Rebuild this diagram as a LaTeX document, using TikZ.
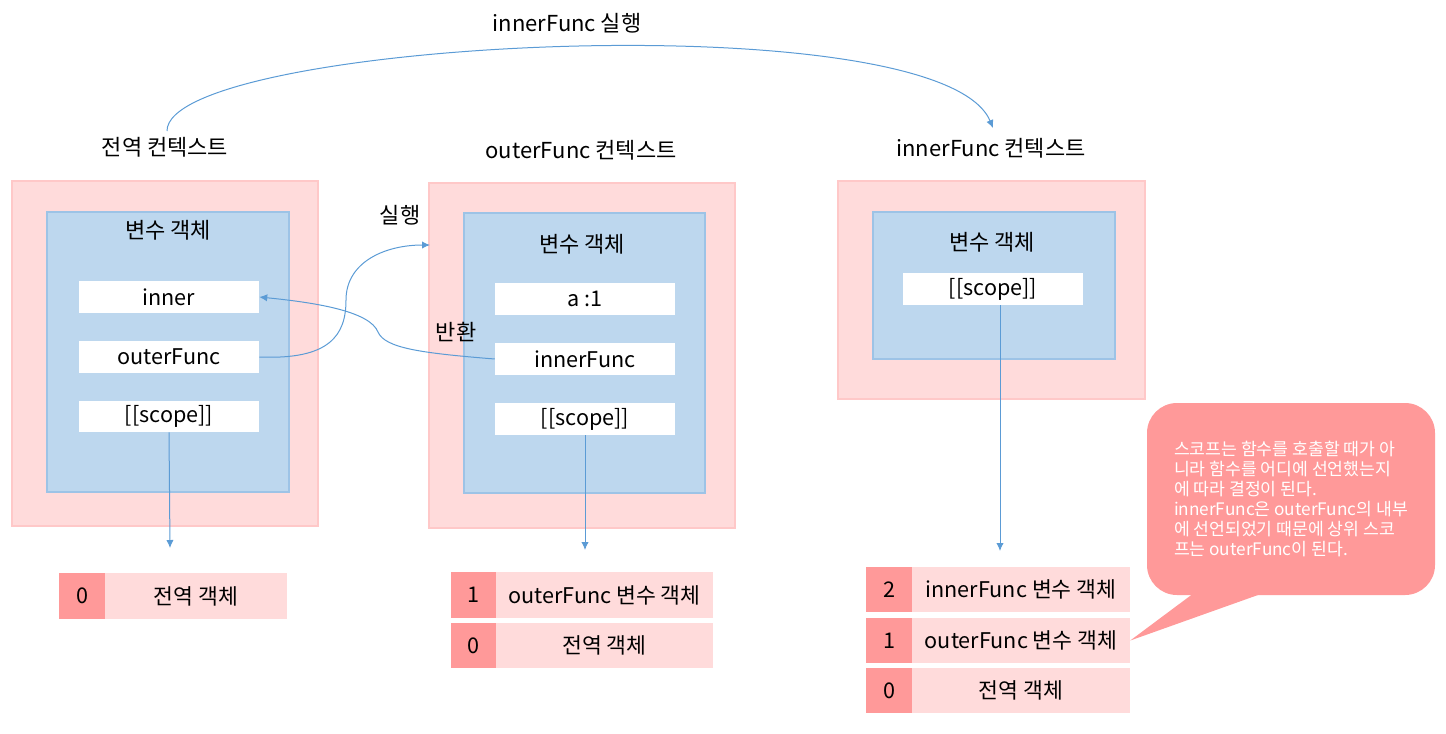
\documentclass[tikz,border=0pt]{standalone}
\usepackage{fontspec}
\setmainfont{Noto Sans CJK KR}
\usetikzlibrary{arrows.meta}
\definecolor{ctxfill}{RGB}{255,219,219}
\definecolor{ctxline}{RGB}{255,200,200}
\definecolor{vofill}{RGB}{189,215,238}
\definecolor{voline}{RGB}{157,195,230}
\definecolor{idxfill}{RGB}{255,153,153}
\definecolor{arrcol}{RGB}{91,155,213}
\tikzset{
  sz/.style 2 args={minimum width=#1*0.75pt, minimum height=#2*0.75pt},
  ctxbox/.style={draw=ctxline, fill=ctxfill, line width=1.2pt, inner sep=0pt},
  vobox/.style={draw=voline, fill=vofill, line width=1.3pt, inner sep=0pt},
  wbox/.style={fill=white, inner sep=0pt, font=\fontsize{16.2}{19}\selectfont},
  idxbox/.style={fill=idxfill, inner sep=0pt, font=\fontsize{16.2}{19}\selectfont},
  stkbox/.style={fill=ctxfill, inner sep=0pt, font=\fontsize{16.2}{19}\selectfont},
  lbl/.style={inner sep=0pt, font=\fontsize{16.5}{19}\selectfont},
  line/.style={draw=arrcol, line width=0.75pt},
  arr/.style={line, -{Latex[length=6pt,width=5.5pt]}},
}
\begin{document}
\begin{tikzpicture}[x=0.75pt,y=-0.75pt]
\useasboundingbox (0,0) rectangle (1446,733);

% ---------- global context ----------
\node[ctxbox, sz={306}{345}] (ctx1) at (165,353.5) {};
\node[vobox, sz={242}{280}] (vo1) at (168,352) {};
\node[lbl] (title1) at (165,147) {전역 컨텍스트};
\node[lbl] (vol1) at (168,230) {변수 객체};
\node[wbox, sz={180}{32}] (inner) at (169,297) {inner};
\node[wbox, sz={180}{32}] (outerFunc) at (169,357) {outerFunc};
\node[wbox, sz={180}{31}] (scope1) at (169,416.5) {[[scope]]};
\node[idxbox, sz={46}{46}] (i10) at (82,596) {0};
\node[stkbox, sz={182}{46}] (r10) at (196,596) {전역 객체};

% ---------- outerFunc context ----------
\node[ctxbox, sz={306}{345}] (ctx2) at (582,355.5) {};
\node[vobox, sz={241}{280}] (vo2) at (584.5,353) {};
\node[lbl] (title2) at (581,150) {outerFunc 컨텍스트};
\node[lbl] (vol2) at (582,244) {변수 객체};
\node[wbox, sz={180}{32}] (a1) at (585,299) {a :1};
\node[wbox, sz={180}{32}] (innerFunc) at (585,359) {innerFunc};
\node[wbox, sz={180}{32}] (scope2) at (585,419) {[[scope]]};
\node[idxbox, sz={45}{46}] (i21) at (473.5,595) {1};
\node[stkbox, sz={217}{46}] (r21) at (604.5,595) {outerFunc 변수 객체};
\node[idxbox, sz={45}{45}] (i20) at (473.5,645.5) {0};
\node[stkbox, sz={217}{45}] (r20) at (604.5,645.5) {전역 객체};

% ---------- innerFunc context ----------
\node[ctxbox, sz={307}{218}] (ctx3) at (991.5,290) {};
\node[vobox, sz={242}{147}] (vo3) at (994,285.5) {};
\node[lbl] (title3) at (991,148) {innerFunc 컨텍스트};
\node[lbl] (vol3) at (992,242) {변수 객체};
\node[wbox, sz={180}{32}] (scope3) at (993,289) {[[scope]]};
\node[idxbox, sz={46}{45}] (i32) at (889,589.5) {2};
\node[stkbox, sz={218}{45}] (r32) at (1021,589.5) {innerFunc 변수 객체};
\node[idxbox, sz={46}{45}] (i31) at (889,640.5) {1};
\node[stkbox, sz={218}{45}] (r31) at (1021,640.5) {outerFunc 변수 객체};
\node[idxbox, sz={46}{45}] (i30) at (889,690.5) {0};
\node[stkbox, sz={218}{45}] (r30) at (1021,690.5) {전역 객체};

% ---------- callout ----------
\fill[idxfill] (r31.east) -- (1198,590) -- (1272,590) -- cycle;
\node[fill=idxfill, rounded corners=22.5pt, sz={288}{192}, text=white,
      align=left, inner sep=0pt,
      font=\fontsize{12.9}{15}\selectfont] (note) at (1291,499)
  {스코프는 함수를 호출할 때가 아\\
   니라 함수를 어디에 선언했는지\\
   에 따라 결정이 된다.\\
   innerFunc은 outerFunc의 내부\\
   에 선언되었기 때문에 상위 스코\\
   프는 outerFunc이 된다.};

% ---------- labels ----------
\node[lbl] (toplbl) at (567,23) {innerFunc 실행};
\node[lbl] (runlbl) at (400,215) {실행};
\node[lbl] (retlbl) at (456,332) {반환};

% ---------- connectors ----------
\coordinate (d1) at (170,548);
\coordinate (d2) at (585,550);
\coordinate (d3) at (1000,551);
\draw[arr] (scope1.south) -- (d1);
\draw[arr] (scope2.south) -- (d2);
\draw[arr] (scope3.south -| d3) -- (d3);

\coordinate (arcstart) at (167,131);
\coordinate (arcend) at (993,128);
\draw[arr] (arcstart) .. controls (167,40) and (940,0) .. (arcend);

\coordinate (runend) at (430,245);
\coordinate (runmid) at (346,300);
\draw[line] (outerFunc.east) .. controls (330,360) and (346,335) .. (runmid);
\draw[arr] (runmid) .. controls (346,262) and (385,245) .. (runend);

\coordinate (retmid) at (378,332);
\draw[line] (innerFunc.west) .. controls (420,353) and (385,348) .. (retmid);
\draw[arr] (retmid) .. controls (370,312) and (320,303) .. (inner.east);
\end{tikzpicture}
\end{document}
